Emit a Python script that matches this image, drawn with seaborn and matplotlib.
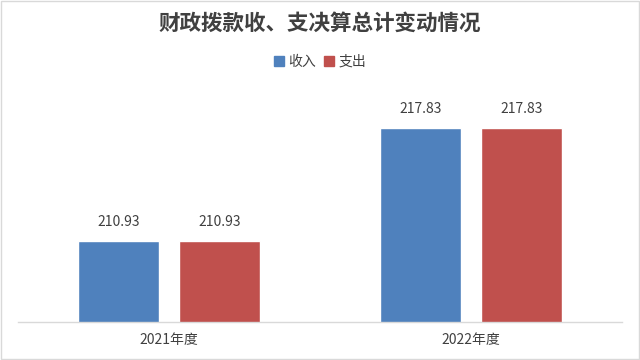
import numpy as np
import pandas as pd
import matplotlib as mpl
from matplotlib import pyplot as plt
import seaborn as sns

# Chart data
years = ['2021年度', '2022年度']
income = [210.93, 217.83]
spending = [210.93, 217.83]
series_names = ['收入', '支出']

# Long-form table for seaborn
df = pd.DataFrame({
    'year': years * 2,
    'series': [series_names[0]] * len(years) + [series_names[1]] * len(years),
    'value': income + spending,
})

sns.set_style('white')
plt.rcParams['font.family'] = ['Noto Sans CJK SC', 'DejaVu Sans']

text_grey = '#404040'
palette = {'收入': '#4F81BD', '支出': '#C0504D'}

fig = plt.figure(figsize=(6.4, 3.6), dpi=100)
ax = fig.add_axes([0.028, 0.1056, 0.944, 0.637])

sns.barplot(data=df, x='year', y='value', hue='series', palette=palette,
            width=0.67, gap=0.2, saturation=1, ax=ax, legend=False)

ax.set_ylim(206, 220)
ax.set_xlim(-0.5, 1.5)

# Value labels above bars
for cont in ax.containers:
    ax.bar_label(cont, fmt='%.2f', padding=9, fontsize=10, color=text_grey)

# Axis styling
for side in ['top', 'right', 'left']:
    ax.spines[side].set_visible(False)
ax.spines['bottom'].set_color('#D9D9D9')
ax.spines['bottom'].set_linewidth(1)
ax.set_yticks([])
ax.set_xlabel('')
ax.set_ylabel('')
ax.tick_params(axis='x', length=0, pad=8, labelsize=10, labelcolor=text_grey)

# Title
fig.text(0.5, 0.935, '财政拨款收、支决算总计变动情况', ha='center', va='center',
         fontsize=15.5, fontweight='bold', color=text_grey)

# Legend
handles = [mpl.patches.Patch(color=palette[s]) for s in series_names]
fig.legend(handles, series_names, loc='center', bbox_to_anchor=(0.5, 0.828),
           ncol=2, frameon=False, fontsize=10, handlelength=0.7, handleheight=0.7,
           handletextpad=0.3, columnspacing=0.6, labelcolor=text_grey)

# Light border round the chart area
fig.patches.append(mpl.patches.Rectangle((0.002, 0.003), 0.996, 0.994, transform=fig.transFigure,
                                         fill=False, edgecolor='#D9D9D9', linewidth=1))

plt.savefig('out.png', dpi=100)
